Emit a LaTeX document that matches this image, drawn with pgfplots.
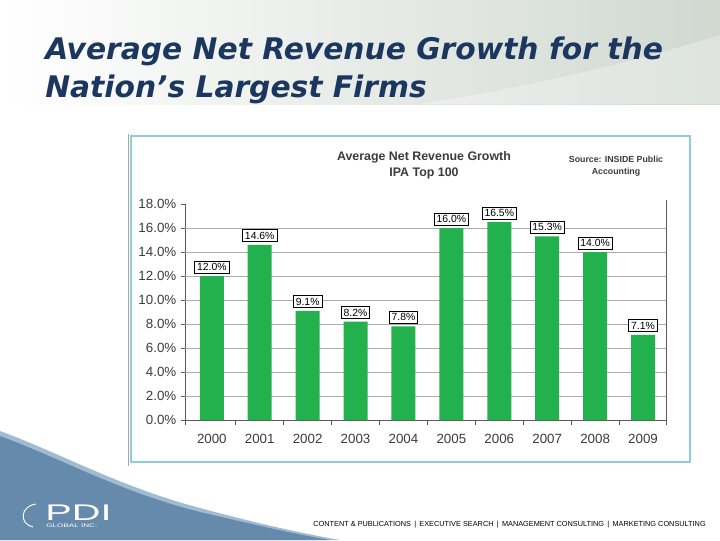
\documentclass[border=0pt]{standalone}
\usepackage{fontspec}
\setmainfont{Liberation Sans}
\newfontfamily\titlefont{DejaVu Sans}
\usepackage{pgfplots}
\pgfplotsset{compat=1.18}
\definecolor{navy}{RGB}{28,55,95}
\definecolor{barg}{RGB}{34,177,76}
\definecolor{frame}{RGB}{140,205,215}
\definecolor{swoosh}{RGB}{102,138,172}
\definecolor{swooshlight}{RGB}{160,188,210}
\definecolor{topgray}{RGB}{208,216,208}
\definecolor{axgray}{RGB}{90,90,90}
\definecolor{txt}{RGB}{60,60,60}
\begin{document}
\begin{tikzpicture}[x=0.75pt,y=-0.75pt]
% canvas
\fill[white] (0,0) rectangle (720,540);
\shade[left color=white, right color=topgray] (0,0) rectangle (720,104);
\fill[white,opacity=0.3] (420,104) .. controls (540,85) and (640,60) .. (720,35) -- (720,104) -- cycle;
% swoosh
\fill[swooshlight] (0,431) .. controls (60,453) and (120,487) .. (200,508) .. controls (260,524) and (300,533) .. (340,540) -- (0,540) -- cycle;
\fill[swoosh] (0,436) .. controls (60,458) and (120,492) .. (200,512) .. controls (260,526) and (295,534) .. (330,540) -- (0,540) -- cycle;
% logo
\draw[white, line width=0.7pt] (36,504) .. controls (20,506) and (19,524) .. (33,527);
\node[anchor=base west, text=white, font=\fontsize{17}{17}\selectfont, inner sep=0pt, xscale=1.75] at (45,520) {PDI};
\node[anchor=base west, text=white, font=\fontsize{3.8}{4}\selectfont, inner sep=0pt, xscale=1.6] at (46,527) {GLOBAL INC.};
% footer
\node[anchor=east, text=black, font=\fontsize{5.5}{6}\selectfont, inner sep=0pt] at (706,525) {CONTENT \& PUBLICATIONS \,|\, EXECUTIVE SEARCH \,|\, MANAGEMENT CONSULTING \,|\, MARKETING CONSULTING};
% slide title
\node[anchor=base west, text=navy, font=\titlefont\bfseries\itshape\fontsize{22.3}{26}\selectfont, inner sep=0pt] at (45,59) {Average Net Revenue Growth for the};
\node[anchor=base west, text=navy, font=\titlefont\bfseries\itshape\fontsize{22.3}{26}\selectfont, inner sep=0pt] at (45,97) {Nation’s Largest Firms};
% chart frame
\draw[frame, line width=1.2pt] (131,136) rectangle (690,462);
\draw[gray!70, line width=0.6pt] (128,134) -- (128,466);
% chart title
\node[align=center, text=txt, font=\bfseries\fontsize{9.3}{12}\selectfont] at (424,165) {Average Net Revenue Growth\\IPA Top 100};
\node[align=center, text=txt, font=\bfseries\fontsize{6.6}{9}\selectfont] at (616,166) {Source: INSIDE Public\\Accounting};
\coordinate (O) at (185,420);
\begin{axis}[
  at={(O)}, anchor=south west, scale only axis,
  width=360.75pt, height=162pt,
  ymin=0, ymax=18, xmin=-0.56, xmax=9.48,
  /pgf/number format/assume math mode=true,
  ybar, bar width=18pt,
  axis x line*=bottom, axis y line*=left,
  axis line style={axgray, line width=0.6pt},
  ytick={0,2,...,18},
  yticklabel={\pgfmathprintnumber[fixed,fixed zerofill,precision=1]{\tick}\%},
  extra y ticks={2,4,...,16}, extra y tick labels={},
  extra y tick style={grid=major, major tick length=0pt},
  grid style={gray!65, line width=0.6pt},
  xtick={0,...,9},
  xticklabels={2000,2001,2002,2003,2004,2005,2006,2007,2008,2009},
  major x tick style={draw=none},
  minor xtick={-0.56,0.5,1.5,2.5,3.5,4.5,5.5,6.5,7.5,8.5,9.48},
  minor x tick style={axgray, line width=0.6pt},
  tick align=outside, major tick length=3pt, minor tick length=4pt,
  y tick style={axgray, line width=0.6pt},
  ticklabel style={text=txt, font=\fontsize{10}{12}\selectfont},
  xticklabel style={yshift=-4pt},
  nodes near coords={\pgfmathprintnumber[fixed,fixed zerofill,precision=1]{\pgfplotspointmeta}\%},
  every node near coord/.append style={draw=black, fill=white, line width=0.5pt, inner sep=1.8pt, text=black, font=\fontsize{7.8}{8}\selectfont, yshift=2pt},
  clip=false,
]
\addplot[fill=barg, draw=none] coordinates {
 (0,12.0) (1,14.6) (2,9.1) (3,8.2) (4,7.8) (5,16.0) (6,16.5) (7,15.3) (8,14.0) (9,7.1)};
\draw[axgray, line width=0.6pt] (rel axis cs:1,0) -- (rel axis cs:1,1.02);
\end{axis}
\end{tikzpicture}
\end{document}
